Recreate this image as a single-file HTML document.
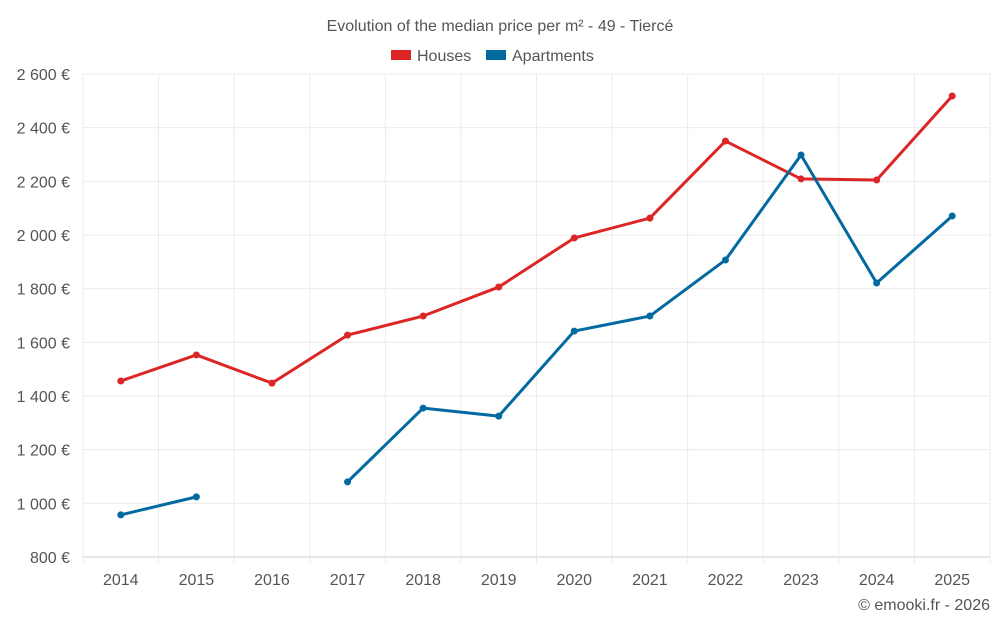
<!DOCTYPE html>
<html><head><meta charset="utf-8">
<style>
body{margin:0;background:#fff;font-family:"Liberation Sans",sans-serif;}
svg text{font-family:"Liberation Sans",sans-serif;}
</style></head>
<body>
<svg id="chart" width="1000" height="625" xmlns="http://www.w3.org/2000/svg">
<text x="500" y="31" text-anchor="middle" font-size="16" fill="#555">Evolution of the median price per m² - 49 - Tiercé</text>
<g>
<g><rect x="391" y="50" width="20" height="10" fill="#dc2626"/><text x="417" y="61" font-size="16" fill="#555">Houses</text></g>
<g><rect x="486" y="50" width="20" height="10" fill="#0369a1"/><text x="512" y="61" font-size="16" fill="#555">Apartments</text></g>
</g>
<g id="grid"></g><g id="axes"></g><g id="series"></g>
<text x="990" y="610" text-anchor="end" font-size="16" fill="#555">© emooki.fr - 2026</text>
</svg>
<script>
const years=["2014","2015","2016","2017","2018","2019","2020","2021","2022","2023","2024","2025"];
const houses=[1456,1553,1448,1627,1698,1806,1989,2063,2350,2209,2205,2518];
const apartments=[957,1024,null,1080,1355,1325,1642,1698,1907,2298,1821,2071];
const yTicks=[800,1000,1200,1400,1600,1800,2000,2200,2400,2600];
const yTickLabels=["800 €","1 000 €","1 200 €","1 400 €","1 600 €","1 800 €","2 000 €","2 200 €","2 400 €","2 600 €"];
const L=83,R=990,T=74,B=557,ymin=800,ymax=2600;
const NS="http://www.w3.org/2000/svg";
const band=(R-L)/years.length;
const x=i=>L+band*(i+0.5);
const y=v=>B-(v-ymin)/(ymax-ymin)*(B-T);
function mk(tag,attrs,parent){const e=document.createElementNS(NS,tag);for(const k in attrs)e.setAttribute(k,attrs[k]);parent.appendChild(e);return e;}
const grid=document.getElementById('grid'),axes=document.getElementById('axes'),ser=document.getElementById('series');
yTicks.forEach((v,i)=>{
 const ln=mk('line',{x1:L,x2:R,y1:y(v),y2:y(v),stroke:i==0?'#ccc':'#ebebeb','stroke-width':1},grid);
 
 
 const t=mk('text',{x:L-13,y:y(v)+6,'text-anchor':'end','font-size':16,fill:'#555'},axes);
 t.textContent=yTickLabels[i];
 
 
});
for(let i=0;i<=years.length;i++){
 const gx=L+band*i;
 const ln=mk('line',{x1:gx,x2:gx,y1:T,y2:B+6,stroke:'#ebebeb','stroke-width':1},grid);
 
 
}
years.forEach((yr,i)=>{
 const t=mk('text',{x:x(i),y:B+28,'text-anchor':'middle','font-size':16,fill:'#555'},axes);
 t.textContent=yr;
 
 
});
function draw(data,color,name){
 let segs=[],cur=[];
 data.forEach((v,i)=>{if(v==null){if(cur.length)segs.push(cur);cur=[];}else cur.push([x(i),y(v)]);});
 if(cur.length)segs.push(cur);
 segs.forEach(s=>{
  const p=mk('polyline',{points:s.map(q=>q.join(',')).join(' '),fill:'none',stroke:color,'stroke-width':3,'stroke-linejoin':'round'},ser);
  
  
 });
 data.forEach((v,i)=>{if(v==null)return;
  const c=mk('circle',{cx:x(i),cy:y(v),r:3.5,fill:color},ser);
  
  
 });
}
draw(houses,'#dc2626','houses');
draw(apartments,'#0369a1','apartments');
</script>
</body></html>
